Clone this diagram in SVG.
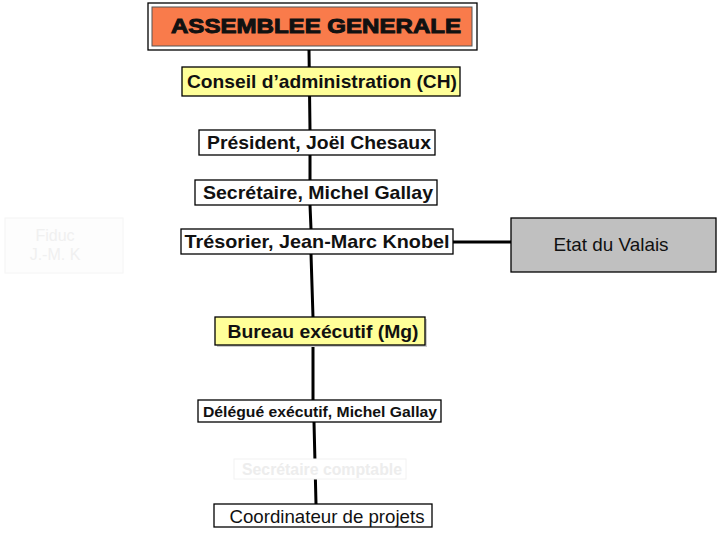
<svg xmlns="http://www.w3.org/2000/svg" width="719" height="545" viewBox="0 0 719 545">
<style>
.box{stroke:#000;stroke-width:1.3}
.w{fill:#fff}
.y{fill:#ffff99}
.t{font-family:"Liberation Sans",Arial,sans-serif;fill:#111;text-anchor:middle}
.b{font-weight:bold}
.conn{stroke:#000;stroke-width:3;fill:none}
</style>
<rect width="719" height="545" fill="#fff"/>
<g id="connectors">
<path class="conn" d="M309 50 L310 130 M310 155 L310 180 M310 205 L311 229 M311 254 L313 317 M313 347 L313 400 M314 422 L316 504"/>
<path class="conn" d="M453 242 L511 242"/>
</g>
<g id="fiduciaire">
<rect x="5" y="218" width="118" height="55" fill="#fdfdfd" stroke="#f4f4f4"/>
<text class="t" x="55" y="241" font-size="16" style="fill:#f0f0f0">Fiduc</text>
<text class="t" x="55" y="260" font-size="16" style="fill:#f0f0f0">J.-M. K</text>
</g>
<g id="assemblee">
<rect x="148" y="3" width="329" height="47" class="box w"/>
<rect x="152" y="7" width="320" height="39" fill="#f97b4b" stroke="#555" stroke-width="1"/>
<text class="t b" x="316" y="33" font-size="21" font-family="'DejaVu Sans',sans-serif" style="font-weight:900" stroke="#111" stroke-width="1" textLength="290" lengthAdjust="spacingAndGlyphs">ASSEMBLEE GENERALE</text>
</g>
<g id="conseil">
<rect x="182" y="67" width="278" height="29" class="box y"/>
<text class="t b" x="322" y="88" font-size="19" textLength="270" lengthAdjust="spacingAndGlyphs">Conseil d’administration (CH)</text>
</g>
<g id="president">
<rect x="199" y="130" width="236" height="25" class="box w"/>
<text class="t b" x="319" y="149" font-size="19" textLength="224" lengthAdjust="spacingAndGlyphs">Président, Joël Chesaux</text>
</g>
<g id="secretaire">
<rect x="195" y="180" width="242" height="25" class="box w"/>
<text class="t b" x="318" y="199" font-size="19" textLength="230" lengthAdjust="spacingAndGlyphs">Secrétaire, Michel Gallay</text>
</g>
<g id="tresorier">
<rect x="181" y="229" width="272" height="25" class="box w"/>
<text class="t b" x="317" y="248" font-size="19" textLength="265" lengthAdjust="spacingAndGlyphs">Trésorier, Jean-Marc Knobel</text>
</g>
<g id="etat">
<rect x="511" y="218" width="205" height="54" class="box" fill="#c0c0c0"/>
<text class="t" x="611" y="251" font-size="19" textLength="115" lengthAdjust="spacingAndGlyphs">Etat du Valais</text>
</g>
<g id="bureau">
<rect x="217" y="319" width="210" height="28" fill="#ccc"/>
<rect x="215" y="317" width="210" height="28" class="box y"/>
<text class="t b" x="323" y="338" font-size="19" textLength="191" lengthAdjust="spacingAndGlyphs">Bureau exécutif (Mg)</text>
</g>
<g id="delegue">
<rect x="198" y="400" width="243" height="22" class="box w"/>
<text class="t b" x="320" y="417" font-size="15.5" textLength="234" lengthAdjust="spacingAndGlyphs">Délégué exécutif, Michel Gallay</text>
</g>
<g id="comptable">
<rect x="234" y="459" width="172" height="20" fill="#fff" stroke="#f2f2f2"/>
<text class="t b" x="322" y="475" font-size="16" style="fill:#ededed" textLength="160" lengthAdjust="spacingAndGlyphs">Secrétaire comptable</text>
</g>
<g id="coordinateur">
<rect x="214" y="504" width="218" height="23" class="box w"/>
<text class="t" x="327" y="523" font-size="18.5" textLength="195" lengthAdjust="spacingAndGlyphs">Coordinateur de projets</text>
</g>
</svg>
